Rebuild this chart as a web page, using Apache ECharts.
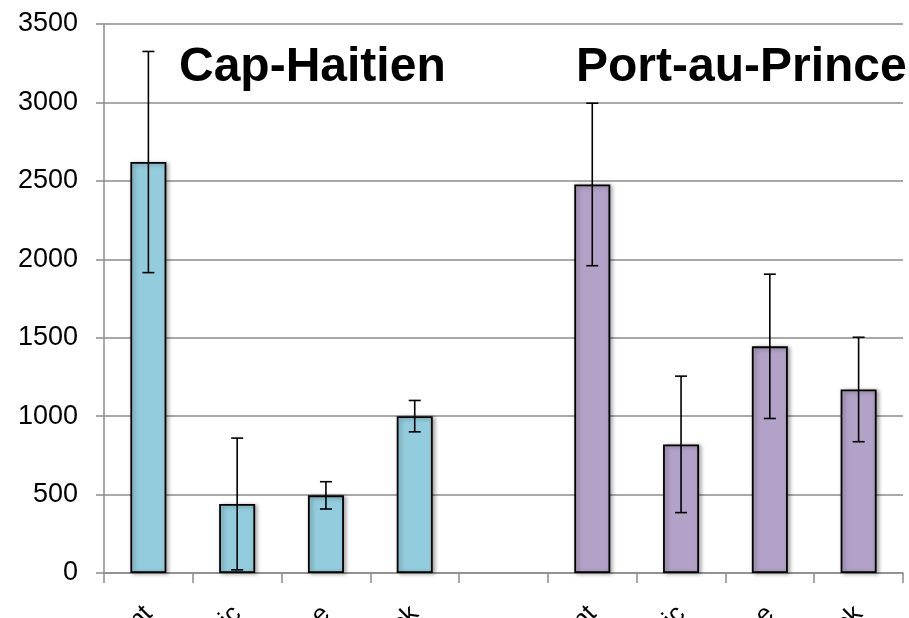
<!DOCTYPE html>
<html>
<head>
<meta charset="utf-8">
<script src="https://cdn.jsdelivr.net/npm/echarts@6/dist/echarts.min.js"></script>
<style>
  html, body { margin: 0; padding: 0; background: #fff; }
  #chart { width: 909px; height: 618px; }
</style>
</head>
<body>
<div id="chart"></div>
<script>
// Nine slots: four samples per city with an empty spacer slot between the groups
const categories = ['Influent', 'Septic', 'Latrine', 'Truck', '', 'Influent', 'Septic', 'Latrine', 'Truck'];

// Mean values and error half-widths (standard deviation) per city
const capHaitienMean = [2620, 440, 495, 1000];
const capHaitienErr  = [705, 420, 87, 100];
const portAuPrinceMean = [2477, 820, 1445, 1170];
const portAuPrinceErr  = [518, 435, 460, 333];

const yTicks = { min: 0, max: 3500, interval: 500 };
const groupTitles = ['Cap-Haitien', 'Port-au-Prince'];

// Spread each city's values over the shared category axis
const capSeries = categories.map((c, i) => (i < 4 ? capHaitienMean[i] : '-'));
const portSeries = categories.map((c, i) => (i >= 5 ? portAuPrinceMean[i - 5] : '-'));

const errorData = [];
capHaitienMean.forEach((v, i) => errorData.push([i, v - capHaitienErr[i], v + capHaitienErr[i]]));
portAuPrinceMean.forEach((v, i) => errorData.push([i + 5, v - portAuPrinceErr[i], v + portAuPrinceErr[i]]));

const chart = echarts.init(document.getElementById('chart'), null, { renderer: 'canvas' });

const barStyle = (color) => ({
  color: color,
  borderColor: '#000',
  borderWidth: 1.8,
  shadowBlur: 4,
  shadowColor: 'rgba(0,0,0,0.35)',
  shadowOffsetX: 2,
  shadowOffsetY: 1
});

const titleStyle = (text) => ({
  text: text,
  fontFamily: 'Liberation Sans',
  fontWeight: 'bold',
  fontSize: 48,
  fill: '#000'
});

chart.setOption({
  animation: false,
  backgroundColor: '#fff',
  grid: { left: 104, right: 6, top: 24, bottom: 45, outerBoundsMode: 'none' },
  xAxis: {
    type: 'category',
    data: categories,
    axisLine: { lineStyle: { color: '#8c8c8c', width: 1.5 } },
    axisTick: { show: true, length: 10, interval: 0, lineStyle: { color: '#8c8c8c', width: 1.5 } },
    axisLabel: {
      interval: 0,
      rotate: 45,
      margin: 37,
      color: '#000',
      fontFamily: 'Liberation Sans',
      fontSize: 26
    },
    splitLine: { show: false }
  },
  yAxis: {
    type: 'value',
    min: yTicks.min,
    max: yTicks.max,
    interval: yTicks.interval,
    axisLine: { show: true, lineStyle: { color: '#8c8c8c', width: 1.5 } },
    axisTick: { show: true, length: 8, inside: false, lineStyle: { color: '#8c8c8c', width: 1.5 } },
    axisLabel: {
      margin: 26,
      color: '#000',
      fontFamily: 'Liberation Sans',
      fontSize: 27,
      formatter: (v) => String(v)
    },
    splitLine: { show: true, lineStyle: { color: '#8c8c8c', width: 1.5 } }
  },
  graphic: [
    { type: 'text', left: 179, top: 44, style: titleStyle(groupTitles[0]), z: 100 },
    { type: 'text', left: 576, top: 44, style: titleStyle(groupTitles[1]), z: 100 }
  ],
  series: [
    {
      name: groupTitles[0],
      type: 'bar',
      data: capSeries,
      barWidth: 36,
      barGap: '-100%',
      itemStyle: barStyle('#93CDDD')
    },
    {
      name: groupTitles[1],
      type: 'bar',
      data: portSeries,
      barWidth: 36,
      barGap: '-100%',
      itemStyle: barStyle('#B3A2C7')
    },
    {
      type: 'custom',
      name: 'error',
      data: errorData,
      z: 10,
      renderItem: function (params, api) {
        const x = api.value(0);
        const lo = api.coord([x, api.value(1)]);
        const hi = api.coord([x, api.value(2)]);
        const half = 6;
        const style = { stroke: '#000', lineWidth: 1.6 };
        return {
          type: 'group',
          children: [
            { type: 'line', shape: { x1: lo[0], y1: lo[1], x2: hi[0], y2: hi[1] }, style: style },
            { type: 'line', shape: { x1: hi[0] - half, y1: hi[1], x2: hi[0] + half, y2: hi[1] }, style: style },
            { type: 'line', shape: { x1: lo[0] - half, y1: lo[1], x2: lo[0] + half, y2: lo[1] }, style: style }
          ]
        };
      }
    }
  ]
});
</script>
</body>
</html>
